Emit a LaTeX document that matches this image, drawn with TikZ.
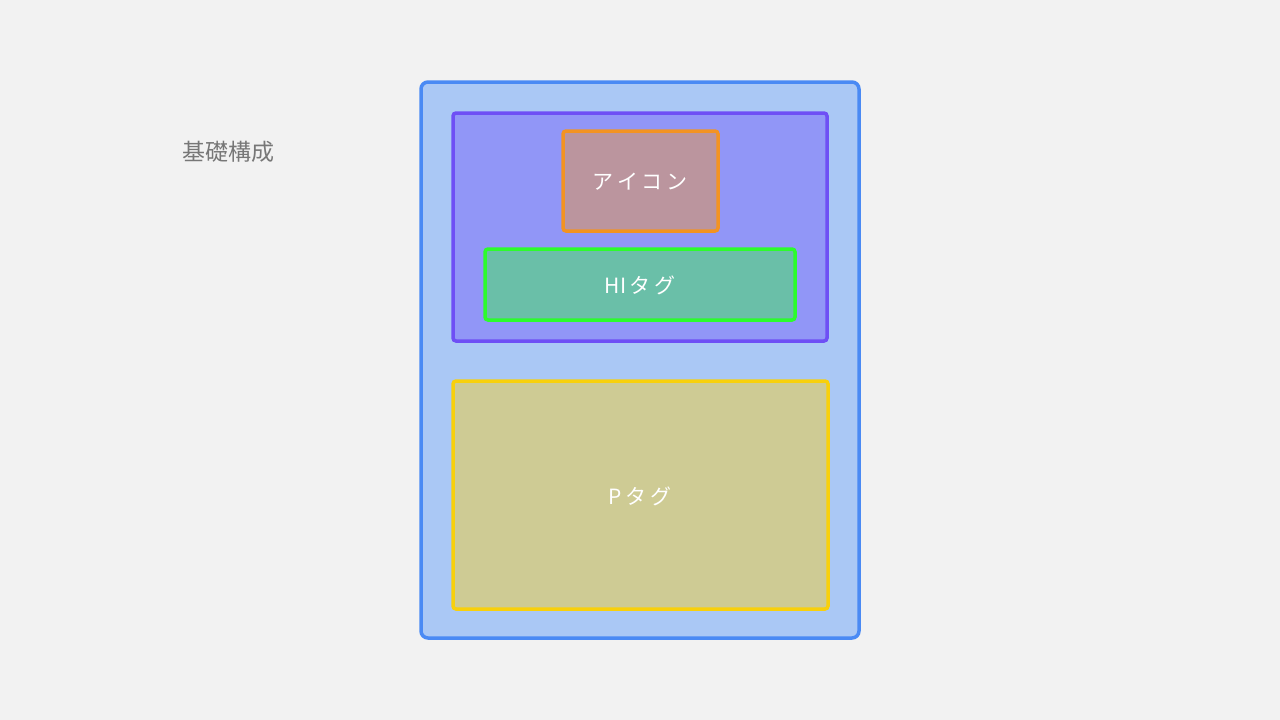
\documentclass[tikz,border=0pt]{standalone}
\usepackage{fontspec}
\setmainfont{Noto Sans CJK JP}
\newfontfamily\jpfont{Noto Sans CJK JP}
\definecolor{bgc}{HTML}{F2F2F2}
\definecolor{outerD}{HTML}{4A8AF4}
\definecolor{outerF}{HTML}{AAC8F5}
\definecolor{purD}{HTML}{6E4FF5}
\definecolor{purF}{HTML}{9196F7}
\definecolor{orD}{HTML}{F39322}
\definecolor{orF}{HTML}{BB959E}
\definecolor{grD}{HTML}{2CFC2C}
\definecolor{grF}{HTML}{6ABFA8}
\definecolor{yeD}{HTML}{F8D00C}
\definecolor{yeF}{HTML}{CECB94}
\definecolor{titleC}{HTML}{777777}
\tikzset{
  boxbase/.style={line width=3.5pt, rounded corners=3pt},
  lbl/.style={text=white, font=\fontsize{21}{25}\selectfont\jpfont},
}
\begin{document}
\begin{tikzpicture}[x=1pt,y=-1pt]
\fill[bgc] (0,0) rectangle (1280,720);
\useasboundingbox (0,0) rectangle (1280,720);
\draw[boxbase, draw=outerD, fill=outerF, rounded corners=7pt] (421,82) rectangle (859,638);
\draw[boxbase, draw=purD, fill=purF] (453,113) rectangle (827,341);
\draw[boxbase, draw=orD, fill=orF] (563,131) rectangle (718,231);
\draw[boxbase, draw=grD, fill=grF] (485,249) rectangle (795,320);
\draw[boxbase, draw=yeD, fill=yeF] (453,381) rectangle (828,609);
\node[lbl] (icon) at (640,182) {ア\,イ\,コ\,ン};
\node[lbl] (h1) at (640,285) {HI\,タ\,グ};
\node[lbl] (p) at (640,496) {P\,タ\,グ};
\node[text=titleC, font=\fontsize{23}{27}\selectfont\jpfont] (title) at (228,152) {基礎構成};
\end{tikzpicture}
\end{document}
